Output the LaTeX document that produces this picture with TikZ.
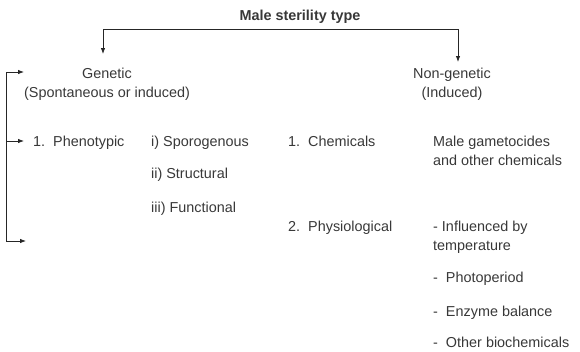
\documentclass[tikz,border=0pt]{standalone}
\usepackage{fontspec}
\setmainfont{Liberation Sans}
\usepackage{tikz}
\usetikzlibrary{arrows.meta, positioning}

\definecolor{inkgray}{HTML}{383838}

\begin{document}
\begin{tikzpicture}[
  x=1pt, y=-1pt,
  lbl/.style={inner sep=0pt, anchor=base west, text=inkgray,
              font=\fontsize{14.4}{19}\selectfont, align=left},
  head/.style={lbl, anchor=base, align=center},
  arrow/.style={-{Latex[length=6pt,width=4.5pt]}, line width=0.8pt, black!85},
]
  \useasboundingbox (0,0) rectangle (580,351);

  % heading and the two branches (base = last line)
  \node[head, font=\fontsize{14.4}{19}\selectfont\bfseries] (title) at (300,20) {Male sterility type};
  \node[head] (gen) at (107,97) {Genetic\\(Spontaneous or induced)};
  \node[head] (nongen) at (452,97) {Non-genetic\\(Induced)};

  % genetic side
  \node[lbl] (pheno) at (33,146) {1.\ \ Phenotypic};
  \node[lbl] (sporo) at (151,146) {i) Sporogenous};
  \node[lbl] (struc) at (151,178) {ii) Structural};
  \node[lbl] (func) at (151,212) {iii) Functional};

  % non-genetic side
  \node[lbl] (chem) at (288,146) {1.\ \ Chemicals};
  \node[lbl] (gameto) at (433,165) {Male gametocides\\and other chemicals};
  \node[lbl] (physio) at (288,231) {2.\ \ Physiological};
  \node[lbl] (temp) at (433,250) {- Influenced by\\temperature};
  \node[lbl] (photo) at (433,282) {-\ \ Photoperiod};
  \node[lbl] (enzyme) at (433,316) {-\ \ Enzyme balance};
  \node[lbl] (biochem) at (433,347) {-\ \ Other biochemicals};

  \coordinate (split) at (300,29);
  \coordinate (genin) at (103,54);
  \coordinate (nongenin) at (458,62);
  \draw[arrow] (split) -| (genin);
  \draw[arrow] (split) -| (nongenin);

  % bracket on the left
  \coordinate (btop) at (6,72);
  \coordinate (bmid) at (6,141);
  \coordinate (bbot) at (6,241);
  \coordinate (gento) at (24,72);
  \coordinate (phenoto) at (24,141);
  \coordinate (botto) at (26,241);
  \draw[line width=0.8pt, black!85] (btop) -- (bbot);
  \draw[arrow] (btop) -- (gento);
  \draw[arrow] (bmid) -- (phenoto);
  \draw[arrow] (bbot) -- (botto);
\end{tikzpicture}
\end{document}
